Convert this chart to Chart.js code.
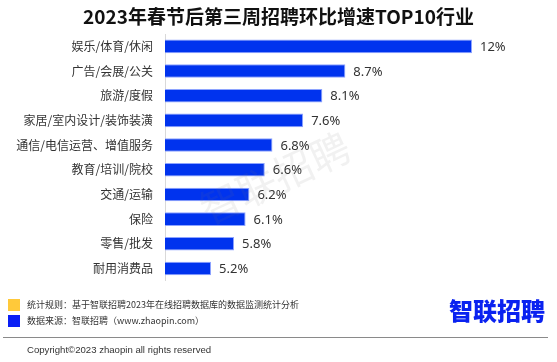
<!DOCTYPE html>
<html>
<head>
<meta charset="utf-8">
<script src="https://cdn.jsdelivr.net/npm/chart.js@4/dist/chart.umd.min.js"></script>
<style>
  body { margin: 0; background: #fff; font-family: "Noto Sans CJK SC", "Noto Sans", sans-serif; }
  #wrap { position: relative; width: 557px; height: 362px; overflow: hidden; }
  #title { position: absolute; left: 0; top: 3px; width: 557px; text-align: center; font-size: 19px; font-weight: bold; color: #111; line-height: 26px; }
  #chartBox { position: absolute; left: 0; top: 0; width: 557px; height: 300px; }
  .sq { position: absolute; left: 8px; width: 12px; height: 12px; }
  .note { position: absolute; left: 27px; font-size: 9px; color: #333; line-height: 12px; white-space: nowrap; }
  #logo { position: absolute; left: 449px; top: 293px; font-size: 24px; font-weight: 900; color: #0a22f0; line-height: 34px; letter-spacing: 0px; }
  #rule { position: absolute; left: 3px; top: 337px; width: 545px; height: 0; border-top: 1.5px solid #8a8a8a; }
  #copy { position: absolute; left: 27px; top: 343px; font-family: "Liberation Sans", Arial, sans-serif; font-size: 9.6px; color: #333; line-height: 14px; }
</style>
</head>
<body>
<div id="wrap">
  <div id="chartBox"><canvas id="growthChart" width="557" height="300"></canvas></div>
  <div id="title">2023年春节后第三周招聘环比增速TOP10行业</div>
  <div class="sq" style="top:299px;background:#ffc93a;"></div>
  <div class="note" style="top:299px;">统计规则：基于智联招聘2023年在线招聘数据库的数据监测统计分析</div>
  <div class="sq" style="top:315px;background:#0a1ff5;"></div>
  <div class="note" style="top:315px;">数据来源：智联招聘（www.zhaopin.com）</div>
  <div id="logo">智联招聘</div>
  <div id="rule"></div>
  <div id="copy">Copyright©2023 zhaopin all rights reserved</div>
</div>
<script>
// 2023春节后第三周招聘环比增速 TOP10

const industries = ['娱乐/体育/休闲', '广告/会展/公关', '旅游/度假', '家居/室内设计/装饰装潢', '通信/电信运营、增值服务',
    '教育/培训/院校', '交通/运输', '保险', '零售/批发', '耐用消费品'];
const growth = [12, 8.7, 8.1, 7.6, 6.8, 6.6, 6.2, 6.1, 5.8, 5.2];
const growthLabels = ['12%', '8.7%', '8.1%', '7.6%', '6.8%', '6.6%', '6.2%', '6.1%', '5.8%', '5.2%'];

// value labels at the end of each bar
const valueLabels = {
    id: 'valueLabels',
    afterDatasetsDraw(chart) {
        const ctx = chart.ctx;
        const meta = chart.getDatasetMeta(0);
        ctx.save();
        ctx.font = '13px "Noto Sans", sans-serif';
        ctx.fillStyle = '#333';
        ctx.textAlign = 'left';
        ctx.textBaseline = 'middle';
        meta.data.forEach(function(bar, i) {
            ctx.fillText(growthLabels[i], bar.x + 8, bar.y + 1);
        });
        ctx.restore();
    }
};

// faint watermark
const watermark = {
    id: 'watermark',
    afterDraw(chart) {
        const ctx = chart.ctx;
        ctx.save();
        ctx.translate(275, 178);
        ctx.rotate(-25 * Math.PI / 180);
        ctx.font = '40px "Noto Sans CJK SC"';
        ctx.fillStyle = 'rgba(120, 120, 120, 0.10)';
        ctx.textAlign = 'center';
        ctx.textBaseline = 'middle';
        ctx.fillText('智联招聘', 0, 0);
        ctx.restore();
    }
};

const ctx = document.getElementById('growthChart').getContext('2d');
new Chart(ctx, {
    type: 'bar',
    data: {
        labels: industries,
        datasets: [{
            data: growth,
            backgroundColor: '#0033ee',
            borderColor: '#8ea4ff',
            borderWidth: 1,
            barPercentage: 0.55,
            categoryPercentage: 1.0
        }]
    },
    options: {
        indexAxis: 'y',
        responsive: false,
        animation: false,
        layout: {
            padding: { top: 34, right: 85, bottom: 11, left: 0 }
        },
        plugins: {
            legend: { display: false },
            tooltip: { enabled: false }
        },
        scales: {
            x: {
                display: false,
                min: 4,
                max: 12
            },
            y: {
                afterFit(scale) { scale.width = 165; },
                grid: { display: false, drawTicks: false },
                border: { display: true, color: '#d9d9d9', width: 1 },
                ticks: {
                    color: '#333',
                    padding: 12,
                    autoSkip: false,
                    font: { family: '"Noto Sans CJK SC"', size: 12 }
                }
            }
        }
    },
    plugins: [valueLabels, watermark]
});
</script>
</body>
</html>
